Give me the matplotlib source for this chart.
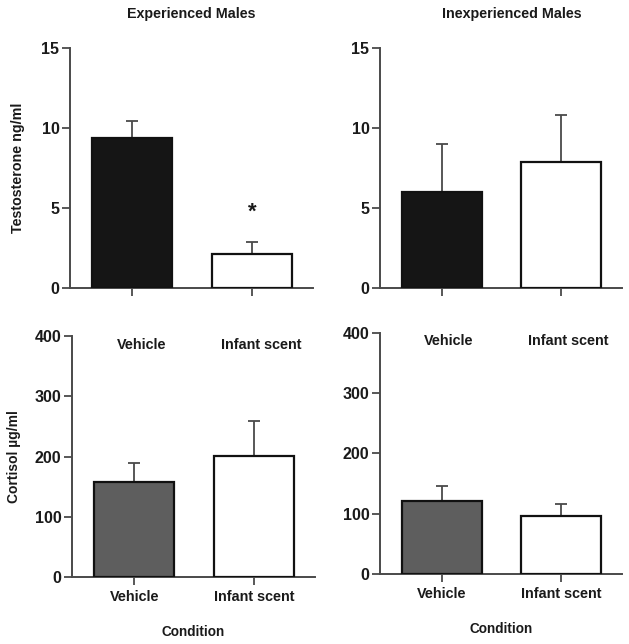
import matplotlib
matplotlib.use("Agg")
import matplotlib.pyplot as plt

plt.rcParams['font.family'] = ['Liberation Sans', 'DejaVu Sans']
plt.rcParams['font.weight'] = 'bold'

conditions = ["Vehicle", "Infant scent"]
groups = ["Experienced Males", "Inexperienced Males"]

# testosterone (ng/ml)
testo_exp = [9.4, 2.1]
testo_exp_err = [1.05, 0.75]
testo_inexp = [6.0, 7.9]
testo_inexp_err = [3.0, 2.9]

# cortisol (ug/ml)
cort_exp = [158, 201]
cort_exp_err = [32, 58]
cort_inexp = [121, 96]
cort_inexp_err = [25, 20]

top_colors = ['#151515', 'white']
bottom_colors = ['#5e5e5e', 'white']
spine_col = '#4a4a4a'
txt_col = '#1a1a1a'

fig = plt.figure(figsize=(6.29, 6.44), dpi=100)

def panel(rect, vals, errs, colors, ylim, yticks):
    ax = fig.add_axes(rect)
    x = range(len(vals))
    ax.bar(x, vals, width=0.67, color=colors, edgecolor='#111111', linewidth=1.6, zorder=3)
    ax.errorbar(x, vals, yerr=[[0] * len(errs), errs], fmt='none', ecolor=spine_col,
                elinewidth=1.3, capsize=4, capthick=1.3, zorder=2)
    ax.set_xlim(-0.52, 1.51)
    ax.set_ylim(*ylim)
    ax.set_yticks(yticks)
    ax.set_xticks(list(x))
    for s in ['top', 'right']:
        ax.spines[s].set_visible(False)
    for s in ['left', 'bottom']:
        ax.spines[s].set_color(spine_col)
        ax.spines[s].set_linewidth(1.4)
    ax.tick_params(colors=spine_col, width=1.3, length=6, labelsize=11.5, labelcolor=txt_col)
    ax.tick_params(axis='y', pad=1.5)
    return ax

# top row - testosterone
ax1 = panel([0.111, 0.553, 0.387, 0.372], testo_exp, testo_exp_err, top_colors, (0, 15), [0, 5, 10, 15])
ax1.set_xticklabels([])
ax1.set_title(groups[0], fontsize=10.3, fontweight='bold', pad=22, color=txt_col)
ax1.set_ylabel("Testosterone ng/ml", fontsize=10.3, fontweight='bold', labelpad=12, color=txt_col)
ax1.text(1, 4.75, "*", ha='center', va='center', fontsize=16, fontweight='bold', color=txt_col)

ax2 = panel([0.604, 0.553, 0.385, 0.372], testo_inexp, testo_inexp_err, top_colors, (0, 15), [0, 5, 10, 15])
ax2.set_xticklabels([])
ax2.set_title(groups[1], fontsize=10.3, fontweight='bold', pad=22, color=txt_col, x=0.545)

# bottom row - cortisol
ax3 = panel([0.1145, 0.104, 0.3865, 0.374], cort_exp, cort_exp_err, bottom_colors, (0, 400), [0, 100, 200, 300, 400])
ax3.set_ylabel("Cortisol \u00b5g/ml", fontsize=10, fontweight='bold', labelpad=10, color=txt_col)

ax4 = panel([0.604, 0.109, 0.385, 0.374], cort_inexp, cort_inexp_err, bottom_colors, (0, 400), [0, 100, 200, 300, 400])

for ax in (ax3, ax4):
    ax.set_xticklabels(conditions, fontsize=10.4, fontweight='bold')
    ax.set_xlabel("Condition", fontsize=9.8, fontweight='bold', labelpad=15, color=txt_col)
    for i, c in enumerate(conditions):
        ax.text(i + 0.06, 386, c, ha='center', va='center', fontsize=10.4,
                fontweight='bold', color=txt_col)

fig.savefig("out.png", dpi=100)
